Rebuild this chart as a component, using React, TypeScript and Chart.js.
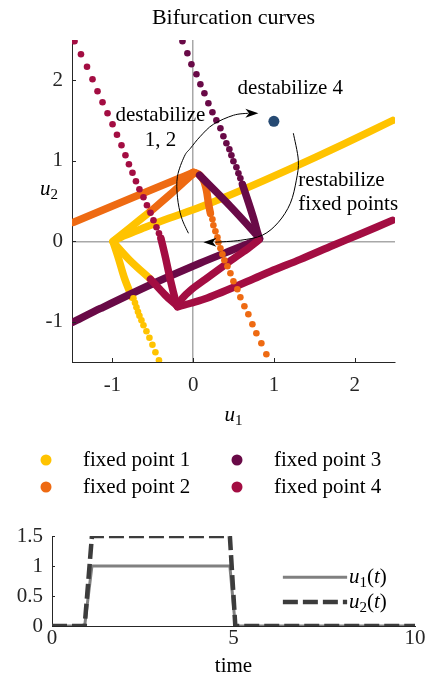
import React, { useEffect, useRef } from 'react';
import { Chart, registerables } from 'chart.js';

Chart.register(...registerables);

const FONT = '"Liberation Serif", "Times New Roman", serif';
const FS = 21;
const TITLE_FS = 22;
const SUB_FS = 15;
const TEXT = '#000000';
const AXIS = '#262626';
const ZERO_LINE = '#a8a8a8';

const FP_LABELS = ['fixed point 1', 'fixed point 2', 'fixed point 3', 'fixed point 4'];
const FP_COLORS = ['#FFC300', '#EE6A12', '#690A47', '#A30D42'];
const TARGET_COLOR = '#264A73';

const X_RANGE = [-1.5, 2.5];
const Y_RANGE = [-1.5, 2.5];
const X_TICKS = [-1, 0, 1, 2];
const Y_TICKS = [-1, 0, 1, 2];

// ---- fixed point 1 (yellow) ----
const FP1_BRANCH_A = [[-0.99, 0.0], [-0.85, 0.07], [-0.6, 0.17], [-0.3, 0.285], [0.09, 0.425], [0.6, 0.635], [1.2, 0.9], [1.85, 1.2], [2.47, 1.5]];
const FP1_BRANCH_B = [[-0.99, 0.0], [-0.78, 0.17], [-0.53, 0.37]];
const FP1_BRANCH_C = [[-0.99, -0.01], [-0.78, -0.24], [-0.53, -0.47]];
const FP1_BRANCH_D = [[-0.99, -0.01], [-0.925, -0.21], [-0.85, -0.46], [-0.76, -0.69]];
const FP1_DOTS = [[-0.739, -0.708], [-0.72, -0.764], [-0.702, -0.82], [-0.683, -0.876], [-0.665, -0.925], [-0.64, -0.981], [-0.615, -1.043], [-0.578, -1.118], [-0.541, -1.199], [-0.504, -1.286], [-0.467, -1.379], [-0.423, -1.478]];

// ---- fixed point 2 (orange) ----
const FP2_BRANCH_E = [[-1.48, 0.236], [-0.74, 0.546], [-0.2, 0.77], [0.0, 0.855]];
const FP2_BRANCH_F = [[-0.53, 0.37], [-0.28, 0.585], [-0.03, 0.81], [0.02, 0.85]];
const FP2_BRANCH_G = [[0.0, 0.857], [0.065, 0.835], [0.127, 0.76], [0.165, 0.634], [0.19, 0.47], [0.214, 0.348]];
const FP2_DOTS = [[0.214, 0.348], [0.239, 0.273], [0.251, 0.199], [0.276, 0.124], [0.301, 0.05], [0.313, -0.012], [0.338, -0.087], [0.363, -0.161], [0.387, -0.236], [0.425, -0.311], [0.462, -0.398], [0.499, -0.497], [0.548, -0.596], [0.585, -0.696], [0.635, -0.807], [0.684, -0.907], [0.734, -1.031], [0.783, -1.143], [0.845, -1.267], [0.907, -1.404]];

// ---- fixed point 3 (purple) ----
const FP3_DOTS = [[-0.132, 2.484], [-0.071, 2.335], [-0.021, 2.199], [0.041, 2.075], [0.09, 1.95], [0.14, 1.839], [0.189, 1.714], [0.239, 1.602], [0.288, 1.503], [0.338, 1.404], [0.375, 1.304], [0.412, 1.217], [0.449, 1.143], [0.474, 1.068], [0.499, 0.994], [0.536, 0.919], [0.561, 0.845], [0.585, 0.783], [0.61, 0.708]];
const FP3_BRANCH_H = [[0.61, 0.708], [0.66, 0.559], [0.709, 0.41], [0.759, 0.248], [0.796, 0.112], [0.821, 0.037]];
const FP3_BRANCH_I = [[0.08, 0.82], [0.46, 0.435], [0.78, 0.087], [0.821, 0.037]];
const FP3_BRANCH_J = [[0.821, 0.025], [0.462, -0.118], [0.09, -0.27], [-0.528, -0.54], [-1.147, -0.835], [-1.49, -1.006]];

// ---- fixed point 4 (crimson) ----
const FP4_DOTS = [[-1.469, 2.484], [-1.389, 2.323], [-1.314, 2.168], [-1.246, 2.012], [-1.184, 1.863], [-1.122, 1.727], [-1.06, 1.59], [-0.998, 1.453], [-0.943, 1.323], [-0.887, 1.193], [-0.838, 1.068], [-0.795, 0.957], [-0.751, 0.851], [-0.708, 0.745], [-0.665, 0.646], [-0.615, 0.547], [-0.572, 0.447], [-0.528, 0.354], [-0.491, 0.261], [-0.454, 0.174], [-0.423, 0.099], [-0.399, 0.037]];
const FP4_BRANCH_K = [[-0.399, 0.037], [-0.343, -0.199], [-0.281, -0.484], [-0.219, -0.733], [-0.194, -0.807]];
const FP4_BRANCH_L = [[-0.528, -0.472], [-0.343, -0.671], [-0.206, -0.795]];
const FP4_BRANCH_M = [[-0.194, -0.807], [-0.132, -0.708], [-0.033, -0.609], [0.152, -0.472], [0.338, -0.335], [0.524, -0.199], [0.684, -0.087], [0.808, 0.012]];
const FP4_BRANCH_N = [[-0.194, -0.815], [-0.033, -0.77], [0.177, -0.705], [0.709, -0.484], [0.957, -0.375], [1.328, -0.225], [1.736, -0.05], [2.071, 0.09], [2.466, 0.26]];

const TARGET_POINT = [[1.0, 1.49]];

// ---- annotations (data coordinates) ----
const ARC_DESTAB = [[-0.058, 0.099], [-0.145, 0.298], [-0.194, 0.547], [-0.194, 0.807], [-0.108, 1.056], [-0.033, 1.155], [0.09, 1.304], [0.251, 1.453], [0.499, 1.565], [0.684, 1.59]];
const ARC_DESTAB_TIP = [0.808, 1.59];
const ARC_RESTAB = [[1.241, 1.342], [1.303, 1.006], [1.278, 0.758], [1.204, 0.472], [1.056, 0.236], [0.858, 0.075], [0.585, 0.012], [0.276, -0.012]];
const ARC_RESTAB_TIP = [0.127, -0.012];
const NOTE_DESTAB_12 = ['destabilize', '1, 2'];
const NOTE_DESTAB_12_POS = [[-0.405, 1.565], [-0.405, 1.255]];
const NOTE_DESTAB_4 = 'destabilize 4';
const NOTE_DESTAB_4_POS = [1.204, 1.9];
const NOTE_RESTAB = ['restabilize', 'fixed points'];
const NOTE_RESTAB_POS = [[1.303, 0.758], [1.303, 0.46]];

// ---- bottom chart ----
const TIME = [0, 0.9, 1.1, 4.9, 5.05, 10];
const U1 = [0, 0, 1, 1, 0, 0];
const U2 = [0, 0, 1.5, 1.5, 0, 0];
const T_TICKS = [0, 5, 10];
const U_TICKS = [0, 0.5, 1, 1.5];
const U1_COLOR = '#808080';
const U2_COLOR = '#3c3c3c';

type Pt = number[];
type Part = { t: string; it?: boolean; sub?: boolean };

const xy = (arr: Pt[]) => arr.map(([x, y]) => ({ x, y }));

const dense = (arr: Pt[], color: string, order: number) => ({
  data: xy(arr),
  showLine: true,
  borderColor: color,
  backgroundColor: color,
  borderWidth: 7.5,
  pointRadius: 0,
  tension: 0.3,
  borderCapStyle: 'round',
  borderJoinStyle: 'round',
  fill: false,
  order,
});

const dots = (arr: Pt[], color: string, order: number, r = 3.3) => ({
  data: xy(arr),
  showLine: false,
  pointRadius: r,
  pointBackgroundColor: color,
  pointBorderWidth: 0,
  borderColor: color,
  backgroundColor: color,
  order,
});

function partFont(p: Part) {
  return `${p.it ? 'italic ' : ''}${p.sub ? SUB_FS : FS}px ${FONT}`;
}

function drawParts(ctx: CanvasRenderingContext2D, x: number, y: number, parts: Part[], align: 'left' | 'center') {
  let w = 0;
  for (const p of parts) {
    ctx.font = partFont(p);
    w += ctx.measureText(p.t).width;
  }
  let cx = align === 'center' ? x - w / 2 : x;
  ctx.textAlign = 'left';
  ctx.textBaseline = 'alphabetic';
  for (const p of parts) {
    ctx.font = partFont(p);
    ctx.fillText(p.t, cx, p.sub ? y + 4 : y);
    cx += ctx.measureText(p.t).width;
  }
}

function smoothPath(ctx: CanvasRenderingContext2D, pts: Pt[]) {
  ctx.moveTo(pts[0][0], pts[0][1]);
  for (let i = 0; i < pts.length - 1; i++) {
    const p0 = pts[i - 1] || pts[i];
    const p1 = pts[i];
    const p2 = pts[i + 1];
    const p3 = pts[i + 2] || p2;
    ctx.bezierCurveTo(
      p1[0] + (p2[0] - p0[0]) / 6, p1[1] + (p2[1] - p0[1]) / 6,
      p2[0] - (p3[0] - p1[0]) / 6, p2[1] - (p3[1] - p1[1]) / 6,
      p2[0], p2[1]
    );
  }
}

function arrowHead(ctx: CanvasRenderingContext2D, from: Pt, tip: Pt, len = 13, half = 4.5) {
  const dx = tip[0] - from[0];
  const dy = tip[1] - from[1];
  const L = Math.hypot(dx, dy) || 1;
  const ux = dx / L, uy = dy / L;
  const nx = -uy, ny = ux;
  const bx = tip[0] - ux * len, by = tip[1] - uy * len;
  ctx.beginPath();
  ctx.moveTo(tip[0], tip[1]);
  ctx.lineTo(bx + nx * half, by + ny * half);
  ctx.lineTo(tip[0] - ux * len * 0.72, tip[1] - uy * len * 0.72);
  ctx.lineTo(bx - nx * half, by - ny * half);
  ctx.closePath();
  ctx.fill();
}

const topDecor = {
  id: 'topDecor',
  afterDraw(chart: any) {
    const ctx: CanvasRenderingContext2D = chart.ctx;
    const xs = chart.scales.x;
    const ys = chart.scales.y;
    const ca = chart.chartArea;
    const P = (p: Pt): Pt => [xs.getPixelForValue(p[0]), ys.getPixelForValue(p[1])];
    ctx.save();
    // inward ticks
    ctx.strokeStyle = AXIS;
    ctx.lineWidth = 1;
    ctx.beginPath();
    X_TICKS.forEach((v) => {
      const x = Math.round(xs.getPixelForValue(v)) + 0.5;
      ctx.moveTo(x, ca.bottom);
      ctx.lineTo(x, ca.bottom - 4);
    });
    Y_TICKS.forEach((v) => {
      const y = Math.round(ys.getPixelForValue(v)) + 0.5;
      ctx.moveTo(ca.left, y);
      ctx.lineTo(ca.left + 4, y);
    });
    ctx.stroke();

    // arrows
    ctx.strokeStyle = '#000';
    ctx.fillStyle = '#000';
    ctx.lineWidth = 1;
    [[ARC_DESTAB, ARC_DESTAB_TIP], [ARC_RESTAB, ARC_RESTAB_TIP]].forEach(([arc, tip]: any) => {
      const pts = arc.map(P);
      ctx.beginPath();
      smoothPath(ctx, pts);
      ctx.stroke();
      arrowHead(ctx, pts[pts.length - 1], P(tip));
    });

    // notes
    ctx.fillStyle = TEXT;
    ctx.font = `${FS}px ${FONT}`;
    ctx.textBaseline = 'middle';
    ctx.textAlign = 'center';
    NOTE_DESTAB_12.forEach((t, i) => {
      const p = P(NOTE_DESTAB_12_POS[i]);
      ctx.fillText(t, p[0], p[1]);
    });
    const p4 = P(NOTE_DESTAB_4_POS);
    ctx.fillText(NOTE_DESTAB_4, p4[0], p4[1]);
    ctx.textAlign = 'left';
    NOTE_RESTAB.forEach((t, i) => {
      const p = P(NOTE_RESTAB_POS[i]);
      ctx.fillText(t, p[0], p[1]);
    });

    // axis labels
    drawParts(ctx, (ca.left + ca.right) / 2, ca.bottom + 59, [{ t: 'u', it: true }, { t: '1', sub: true }], 'center');
    drawParts(ctx, ca.left - 32, (ca.top + ca.bottom) / 2 - 6, [{ t: 'u', it: true }, { t: '2', sub: true }], 'left');

    // legend (2 columns)
    const colDot = [ca.left - 26, ca.left + 165];
    const rowY = [ca.bottom + 98, ca.bottom + 125];
    FP_LABELS.forEach((label, i) => {
      const col = Math.floor(i / 2);
      const row = i % 2;
      const cx = colDot[col];
      const cy = rowY[row];
      ctx.fillStyle = FP_COLORS[i];
      ctx.beginPath();
      ctx.arc(cx, cy, 5.5, 0, Math.PI * 2);
      ctx.fill();
      ctx.fillStyle = TEXT;
      ctx.font = `${FS}px ${FONT}`;
      ctx.textAlign = 'left';
      ctx.textBaseline = 'middle';
      ctx.fillText(label, cx + 37, cy);
    });
    ctx.restore();
  },
};

const botDecor = {
  id: 'botDecor',
  afterDraw(chart: any) {
    const ctx: CanvasRenderingContext2D = chart.ctx;
    const xs = chart.scales.x;
    const ys = chart.scales.y;
    const ca = chart.chartArea;
    ctx.save();
    ctx.strokeStyle = AXIS;
    ctx.lineWidth = 1;
    ctx.beginPath();
    U_TICKS.forEach((v) => {
      const y = Math.round(ys.getPixelForValue(v)) + 0.5;
      ctx.moveTo(ca.left, y);
      ctx.lineTo(ca.left + 3, y);
    });
    ctx.stroke();

    // legend
    const x0 = xs.getPixelForValue(6.36);
    const x1 = xs.getPixelForValue(8.13);
    const tx = xs.getPixelForValue(8.18);
    const entries = [
      { y: 0.814, color: U1_COLOR, width: 3, dash: [] as number[], sub: '1' },
      { y: 0.4, color: U2_COLOR, width: 4.5, dash: [15, 5], sub: '2' },
    ];
    entries.forEach((e) => {
      const y = ys.getPixelForValue(e.y);
      ctx.strokeStyle = e.color;
      ctx.lineWidth = e.width;
      ctx.setLineDash(e.dash);
      ctx.beginPath();
      ctx.moveTo(x0, y);
      ctx.lineTo(x1, y);
      ctx.stroke();
      ctx.setLineDash([]);
      ctx.fillStyle = TEXT;
      drawParts(ctx, tx, y + 6, [{ t: 'u', it: true }, { t: e.sub, sub: true }, { t: '(' }, { t: 't', it: true }, { t: ')' }], 'left');
    });
    ctx.restore();
  },
};

const tickFont = { family: FONT, size: FS, weight: 'normal' as const };
const plainNum = (v: any) => String(v);

function topConfig(): any {
  return {
    type: 'scatter',
    data: {
      datasets: [
        dense(FP1_BRANCH_A, FP_COLORS[0], 20),
        dense(FP1_BRANCH_B, FP_COLORS[0], 20),
        dense(FP1_BRANCH_C, FP_COLORS[0], 20),
        dense(FP1_BRANCH_D, FP_COLORS[0], 20),
        dense(FP2_BRANCH_E, FP_COLORS[1], 19),
        dense(FP2_BRANCH_F, FP_COLORS[1], 19),
        dense(FP2_BRANCH_G, FP_COLORS[1], 19),
        dense(FP3_BRANCH_H, FP_COLORS[2], 18),
        dense(FP3_BRANCH_I, FP_COLORS[2], 18),
        dense(FP3_BRANCH_J, FP_COLORS[2], 18),
        dense(FP4_BRANCH_K, FP_COLORS[3], 17),
        dense(FP4_BRANCH_L, FP_COLORS[3], 17),
        dense(FP4_BRANCH_M, FP_COLORS[3], 17),
        dense(FP4_BRANCH_N, FP_COLORS[3], 17),
        dots(FP1_DOTS, FP_COLORS[0], 4),
        dots(FP2_DOTS, FP_COLORS[1], 3),
        dots(FP3_DOTS, FP_COLORS[2], 2),
        dots(FP4_DOTS, FP_COLORS[3], 1),
        dots(TARGET_POINT, TARGET_COLOR, 0, 5.5),
      ],
    },
    options: {
      animation: false,
      responsive: false,
      maintainAspectRatio: false,
      events: [],
      layout: { padding: { left: 0, right: 34, top: 0, bottom: 0 } },
      plugins: {
        legend: { display: false },
        tooltip: { enabled: false },
        title: {
          display: true,
          text: 'Bifurcation curves',
          fullSize: false,
          color: TEXT,
          font: { family: FONT, size: TITLE_FS, weight: 'normal' },
          padding: { top: 5, bottom: 8.6 },
        },
      },
      scales: {
        x: {
          type: 'linear',
          min: X_RANGE[0],
          max: X_RANGE[1],
          afterBuildTicks: (s: any) => { s.ticks = X_TICKS.map((v) => ({ value: v })); },
          afterFit: (s: any) => { s.height = 148; },
          ticks: { font: tickFont, color: AXIS, padding: 11, maxRotation: 0, callback: plainNum },
          grid: {
            drawTicks: false,
            lineWidth: 1.5,
            color: (c: any) => (c.tick && c.tick.value === 0 ? ZERO_LINE : 'rgba(0,0,0,0)'),
          },
          border: { display: true, color: AXIS, width: 1 },
        },
        y: {
          type: 'linear',
          min: Y_RANGE[0],
          max: Y_RANGE[1],
          afterBuildTicks: (s: any) => { s.ticks = Y_TICKS.map((v) => ({ value: v })); },
          afterFit: (s: any) => { s.width = 72; },
          ticks: { font: tickFont, color: AXIS, padding: 9, callback: plainNum },
          grid: {
            drawTicks: false,
            lineWidth: 1.5,
            color: (c: any) => (c.tick && c.tick.value === 0 ? ZERO_LINE : 'rgba(0,0,0,0)'),
          },
          border: { display: true, color: AXIS, width: 1 },
        },
      },
    },
    plugins: [topDecor],
  };
}

function botConfig(): any {
  return {
    type: 'line',
    data: {
      datasets: [
        {
          label: 'u1(t)',
          data: TIME.map((t, i) => ({ x: t, y: U1[i] })),
          borderColor: U1_COLOR,
          borderWidth: 3,
          pointRadius: 0,
          tension: 0,
          fill: false,
          order: 2,
        },
        {
          label: 'u2(t)',
          data: TIME.map((t, i) => ({ x: t, y: U2[i] })),
          borderColor: U2_COLOR,
          borderWidth: 4.5,
          borderDash: [15, 5],
          pointRadius: 0,
          tension: 0,
          fill: false,
          order: 1,
        },
      ],
    },
    options: {
      animation: false,
      responsive: false,
      maintainAspectRatio: false,
      events: [],
      layout: { padding: { left: 0, right: 14, top: 26, bottom: 0 } },
      plugins: { legend: { display: false }, tooltip: { enabled: false } },
      scales: {
        x: {
          type: 'linear',
          min: 0,
          max: 10,
          afterBuildTicks: (s: any) => { s.ticks = T_TICKS.map((v) => ({ value: v })); },
          afterFit: (s: any) => { s.height = 58; },
          ticks: { font: tickFont, color: AXIS, padding: 0, maxRotation: 0, callback: plainNum },
          grid: { display: false, drawTicks: false },
          border: { display: true, color: AXIS, width: 1 },
          title: { display: true, text: 'time', color: TEXT, font: { family: FONT, size: FS, weight: 'normal' }, padding: { top: 2, bottom: 5 } },
        },
        y: {
          type: 'linear',
          min: 0,
          max: 1.5,
          afterBuildTicks: (s: any) => { s.ticks = U_TICKS.map((v) => ({ value: v })); },
          afterFit: (s: any) => { s.width = 52; },
          ticks: { font: tickFont, color: AXIS, padding: 9, callback: plainNum },
          grid: { display: false, drawTicks: false },
          border: { display: true, color: AXIS, width: 1 },
        },
      },
    },
    plugins: [botDecor],
  };
}

export default function App() {
  const topRef = useRef<HTMLCanvasElement>(null);
  const botRef = useRef<HTMLCanvasElement>(null);
  useEffect(() => {
    if (!topRef.current || !botRef.current) return;
    const c1 = new Chart(topRef.current, topConfig());
    const c2 = new Chart(botRef.current, botConfig());
    return () => {
      c1.destroy();
      c2.destroy();
    };
  }, []);
  return (
    <div style={{ position: 'absolute', left: 0, top: 0, width: 429, height: 684, background: '#ffffff' }}>
      <canvas ref={topRef} width={429} height={510} style={{ position: 'absolute', left: 0, top: 0, width: 429, height: 510 }} />
      <canvas ref={botRef} width={429} height={174} style={{ position: 'absolute', left: 0, top: 510, width: 429, height: 174 }} />
    </div>
  );
}
